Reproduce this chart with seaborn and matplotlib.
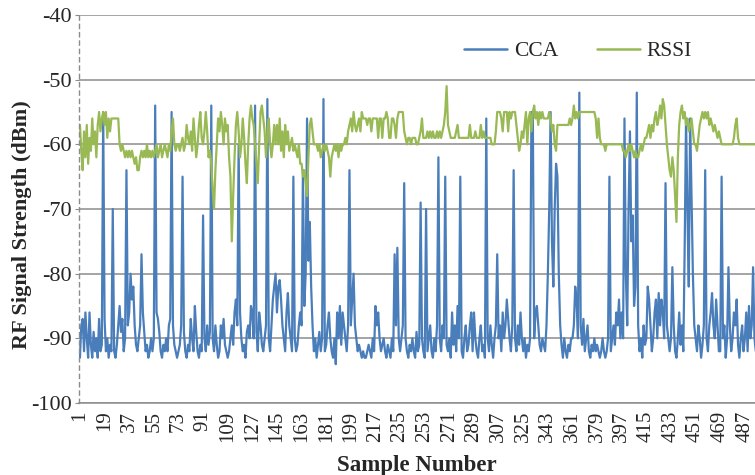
import numpy as np
import pandas as pd
import matplotlib
matplotlib.use("Agg")
import matplotlib.pyplot as plt
import seaborn as sns

# ---------------- data ----------------
cca = [
    -93, -88, -87, -92, -86, -90, -93, -86, -91, -93, -89, -92, -90, -93, -87, -92, -91, -55,
    -87, -92, -90, -93, -91, -92, -70, -92, -93, -91, -88, -85, -89, -87, -92, -90, -64, -88,
    -86, -80, -84, -82, -88, -91, -92, -90, -88, -77, -86, -89, -92, -91, -93, -92, -90, -92,
    -90, -54, -86, -87, -89, -92, -93, -91, -92, -90, -92, -88, -87, -55, -88, -91, -92, -93,
    -92, -91, -88, -65, -89, -92, -93, -91, -92, -87, -90, -92, -85, -89, -92, -93, -91, -92,
    -71, -90, -92, -88, -91, -89, -54, -90, -92, -88, -91, -93, -92, -88, -90, -87, -91, -92,
    -93, -92, -90, -88, -91, -86, -84, -88, -60, -86, -90, -92, -91, -93, -89, -88, -90, -85,
    -86, -90, -54, -89, -92, -86, -88, -91, -92, -90, -88, -53, -90, -92, -88, -84, -82, -80,
    -86, -82, -81, -84, -88, -90, -92, -86, -83, -88, -90, -92, -65, -90, -92, -91, -88, -86,
    -88, -64, -85, -80, -56, -78, -72, -82, -88, -92, -90, -93, -91, -89, -92, -90, -53, -92,
    -91, -88, -86, -90, -92, -93, -90, -94, -86, -90, -85, -91, -86, -88, -90, -92, -88, -64,
    -88, -84, -80, -88, -90, -92, -91, -92, -93, -92, -93, -93, -92, -91, -92, -93, -90, -92,
    -85, -88, -86, -90, -92, -91, -90, -92, -93, -91, -92, -93, -90, -92, -77, -88, -76, -90,
    -92, -90, -88, -66, -90, -92, -93, -91, -92, -90, -92, -93, -89, -92, -91, -69, -90, -92,
    -93, -70, -92, -90, -88, -92, -93, -90, -92, -88, -62, -90, -92, -88, -90, -65, -91, -92,
    -90, -93, -86, -91, -88, -92, -85, -90, -65, -92, -93, -90, -88, -92, -91, -88, -86, -92,
    -86, -90, -92, -93, -90, -88, -92, -91, -93, -56, -90, -92, -88, -91, -93, -90, -88, -77,
    -90, -88, -92, -86, -90, -88, -84, -87, -90, -92, -88, -64, -90, -92, -88, -91, -86, -90,
    -92, -90, -93, -91, -92, -90, -55, -55, -90, -86, -85, -88, -91, -92, -90, -91, -92, -88,
    -80, -70, -55, -75, -82, -70, -63, -65, -80, -88, -91, -93, -90, -92, -93, -91, -92, -90,
    -90, -88, -82, -84, -90, -52, -88, -91, -87, -92, -90, -88, -92, -93, -91, -92, -90, -92,
    -91, -92, -93, -92, -90, -92, -93, -92, -90, -65, -92, -90, -88, -91, -86, -88, -84, -90,
    -86, -90, -56, -80, -88, -70, -58, -75, -71, -85, -82, -52, -88, -92, -90, -93, -88, -91,
    -90, -82, -84, -88, -92, -90, -86, -84, -90, -83, -88, -84, -86, -90, -66, -88, -90, -92,
    -90, -79, -88, -92, -93, -90, -86, -91, -88, -92, -76, -56, -70, -82, -56, -68, -80, -88,
    -90, -92, -88, -90, -93, -91, -88, -64, -90, -92, -88, -86, -83, -88, -90, -84, -88, -92,
    -92, -65, -90, -88, -93, -90, -79, -88, -92, -90, -86, -88, -84, -91, -93, -90, -88, -92,
    -90, -86, -92, -85, -90, -88, -79, -90, -92,
]

rssi = [
    -57, -61, -64, -58, -62, -57, -63, -59, -61, -56, -60, -58, -62, -57, -55, -58, -56, -55,
    -57, -55, -59, -56, -58, -56, -56, -56, -56, -56, -56, -60, -61, -60, -61, -62, -61, -62,
    -61, -62, -61, -62, -63, -62, -64, -64, -62, -61, -62, -61, -62, -60, -62, -61, -62, -61,
    -62, -61, -60, -62, -61, -60, -62, -61, -60, -61, -62, -60, -61, -58, -56, -60, -61, -60,
    -60, -61, -60, -59, -61, -60, -57, -59, -60, -58, -61, -56, -59, -62, -60, -57, -55, -59,
    -60, -58, -55, -58, -62, -61, -63, -67, -70, -64, -60, -56, -58, -55, -57, -60, -56, -58,
    -57, -62, -65, -75, -68, -62, -57, -55, -58, -62, -60, -56, -59, -63, -66, -60, -56, -54,
    -56, -57, -60, -63, -66, -60, -55, -54, -56, -58, -62, -58, -56, -60, -62, -60, -57, -60,
    -57, -60, -56, -61, -58, -62, -57, -60, -58, -61, -60, -59, -61, -60, -61, -62, -60, -63,
    -63, -65, -64, -66, -68, -62, -57, -56, -58, -60, -60, -60, -61, -60, -62, -61, -60, -61,
    -60, -61, -62, -65, -62, -61, -60, -61, -60, -62, -60, -61, -60, -60, -59, -60, -58, -57,
    -56, -58, -55, -57, -58, -57, -56, -58, -55, -56, -56, -56, -57, -56, -56, -58, -56, -56,
    -56, -56, -59, -56, -56, -59, -56, -56, -55, -56, -59, -59, -56, -56, -57, -59, -56, -55,
    -55, -55, -55, -58, -59, -60, -59, -59, -60, -59, -59, -59, -60, -60, -59, -58, -56, -59,
    -59, -59, -58, -59, -58, -59, -58, -59, -59, -58, -59, -58, -59, -58, -57, -55, -51, -57,
    -58, -59, -59, -59, -59, -58, -57, -59, -59, -59, -59, -59, -59, -59, -59, -57, -59, -59,
    -59, -58, -59, -59, -59, -57, -59, -58, -59, -59, -59, -59, -59, -60, -60, -60, -58, -55,
    -55, -55, -56, -58, -55, -55, -55, -58, -55, -56, -55, -55, -55, -57, -59, -61, -60, -58,
    -59, -57, -55, -60, -56, -55, -58, -55, -54, -56, -55, -57, -55, -56, -55, -56, -56, -56,
    -56, -55, -56, -58, -57, -60, -61, -57, -57, -57, -57, -57, -57, -57, -57, -57, -56, -57,
    -56, -54, -56, -55, -56, -55, -55, -55, -55, -55, -55, -55, -55, -55, -55, -55, -55, -56,
    -59, -56, -59, -60, -60, -60, -61, -60, -60, -60, -60, -60, -60, -60, -60, -60, -60, -60,
    -60, -61, -61, -62, -61, -60, -61, -60, -61, -62, -61, -62, -62, -61, -60, -61, -60, -59,
    -59, -58, -57, -59, -57, -58, -56, -55, -57, -56, -54, -56, -53, -54, -57, -60, -62, -64,
    -65, -62, -64, -68, -72, -62, -57, -55, -54, -56, -55, -57, -56, -58, -57, -56, -58, -60,
    -60, -61, -59, -57, -56, -55, -56, -55, -56, -55, -57, -56, -57, -58, -57, -58, -59, -58,
    -59, -60, -60, -60, -60, -60, -60, -60, -60, -60, -59, -57, -56, -59, -60, -60, -60, -60,
    -60, -60, -60, -60, -60, -60, -60, -60, -60,
]

series_names = ["CCA", "RSSI"]
series_colors = ["#4a7ebb", "#98b954"]
x_ticks = list(range(1, 488, 18))
y_ticks = [-100, -90, -80, -70, -60, -50, -40]

df = pd.concat([
    pd.DataFrame({"Sample": np.arange(1, len(cca) + 1), "dBm": cca, "Series": "CCA"}),
    pd.DataFrame({"Sample": np.arange(1, len(rssi) + 1), "dBm": rssi, "Series": "RSSI"}),
], ignore_index=True)

# ---------------- style ----------------
sns.set_style("white")
plt.rcParams["font.family"] = ["Liberation Serif", "DejaVu Serif"]

fig = plt.figure(figsize=(7.55, 4.75), dpi=100)
ax = fig.add_axes([0.1046, 0.1516, 0.8954, 0.8168])

sns.lineplot(data=df, x="Sample", y="dBm", hue="Series", hue_order=series_names,
             palette=series_colors, linewidth=1.6, ax=ax, legend=True,
             estimator=None, sort=False)

ax.set_xlim(0.3, 494.4)
ax.set_ylim(-100, -40)
ax.set_yticks(y_ticks)
ax.set_yticklabels([str(v) for v in y_ticks], fontsize=16)
ax.set_xticks(x_ticks)
ax.set_xticklabels([str(v) for v in x_ticks], rotation=90, fontsize=15)

ax.yaxis.grid(True, color="#8c8c8c", linewidth=1.1)
ax.xaxis.grid(False)
ax.set_axisbelow(True)

for side in ["top", "right"]:
    ax.spines[side].set_visible(False)
ax.spines["bottom"].set_color("#8c8c8c")
ax.spines["bottom"].set_linewidth(1.1)
ax.spines["left"].set_color("#8c8c8c")
ax.spines["left"].set_linestyle((0, (3, 3)))
ax.spines["left"].set_linewidth(1.0)

ax.tick_params(axis="y", which="both", left=True, length=3, color="#8c8c8c", pad=2)
ax.tick_params(axis="x", which="both", bottom=False, pad=2)

ax.set_xlabel("Sample Number", fontsize=16.5, fontweight="bold", labelpad=9)
ax.set_ylabel("RF Signal Strength (dBm)", fontsize=16, fontweight="bold")
ax.yaxis.set_label_coords(-0.07, 0.459)

leg = ax.legend(ncol=2, frameon=False, loc="upper right", bbox_to_anchor=(0.935, 0.983),
                fontsize=15.5, handlelength=2.0, columnspacing=1.8, handletextpad=0.3)
for line in leg.get_lines():
    line.set_linewidth(1.8)

fig.savefig("out.png", dpi=100)
